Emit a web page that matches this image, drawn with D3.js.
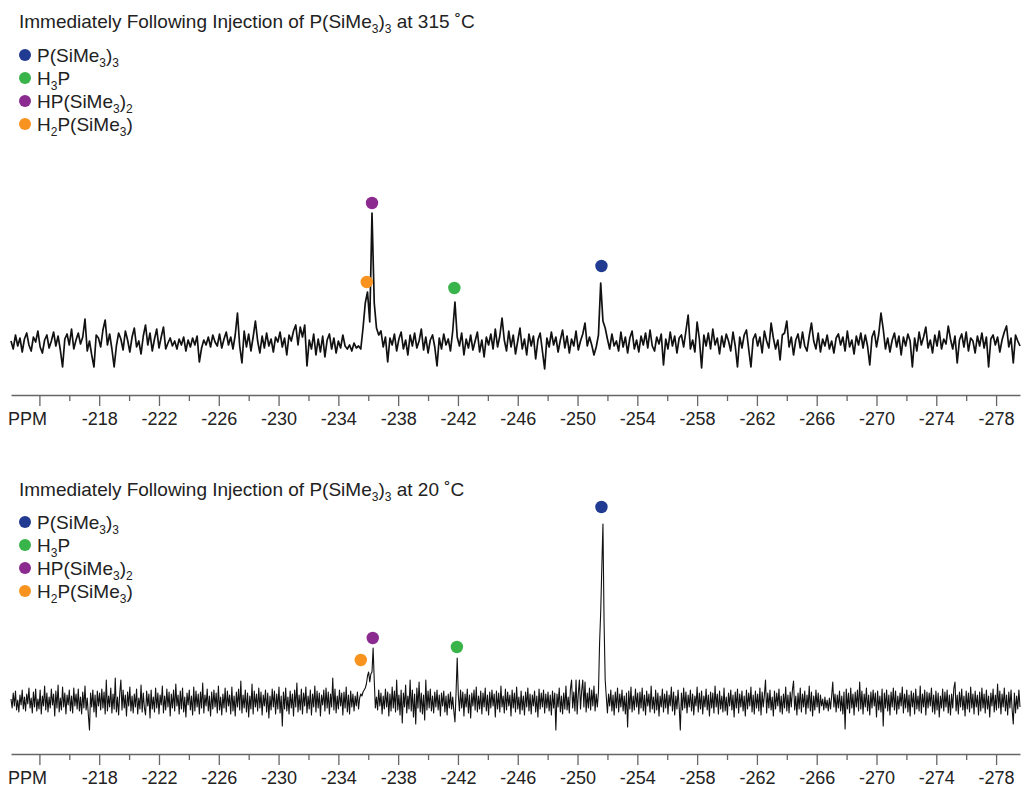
<!DOCTYPE html>
<html><head><meta charset="utf-8">
<script src="https://cdn.jsdelivr.net/npm/d3@7"></script>
<style>
body{margin:0;background:#fff}
svg{display:block}
text{font-family:"Liberation Sans",Arial,Helvetica,sans-serif;fill:#222}
</style>
</head><body>
<svg id="chart" width="1023" height="788"></svg>
<script>
// ---------------- DATA ----------------
// chemical shift grids (ppm) of the sampled spectra
const ppmStart = -212.1;
const ppmStepTop = -0.15;
const ppmStepBottom = -0.075;

const majorTicks = [-214,-218,-222,-226,-230,-234,-238,-242,-246,-250,-254,-258,-262,-266,-270,-274,-278];
const minorTicks = [-216,-220,-224,-228,-232,-236,-240,-244,-248,-252,-256,-260,-264,-268,-272,-276];

const speciesNames = [
  [["P(SiMe",0],["3",1],[")",0],["3",1]],
  [["H",0],["3",1],["P",0]],
  [["HP(SiMe",0],["3",1],[")",0],["2",1]],
  [["H",0],["2",1],["P(SiMe",0],["3",1],[")",0]]
];
const speciesColors = ["#213a92","#39b44a","#8b2a8f","#f7931e"];

const titleTop = [["Immediately Following Injection of P(SiMe",0],["3",1],[")",0],["3",1],[" at 315 \u02DAC",0]];
const titleBottom = [["Immediately Following Injection of P(SiMe",0],["3",1],[")",0],["3",1],[" at 20 \u02DAC",0]];

// intensities (arbitrary units), spectrum recorded at 315 °C
const spectrumTop = [
2,-6,8,-3,5,-9,4,10,-2,-8,6,1,12,-4,-10,3,8,-5,2,11,
-3,7,-7,-24,4,9,-2,14,-6,3,10,-1,6,24,-8,2,-12,-24,8,5,
-4,13,23,-2,9,-6,-24,-3,10,4,-7,12,3,-9,6,15,-4,2,-11,7,
18,-2,10,-8,4,14,-5,6,16,-6,0,5,-3,2,-6,4,-2,6,-8,3,
-4,5,-2,7,-19,-5,3,-2,6,-4,8,1,-3,9,-5,4,11,-2,6,-6,
8,30,-3,-20,12,-4,9,-8,6,22,2,-10,7,-5,10,-3,4,-9,6,1,
11,-4,5,-12,8,2,12,18,-2,16,6,18,-23,3,-6,9,-12,4,-9,7,
-14,3,9,-6,5,-10,2,-5,8,-3,-6,-2,-8,0,-5,-3,-6,15,40,51,
21,130,40,15,8,12,-4,6,-19,5,-2,9,-8,4,11,-6,3,-12,8,-3,
10,-5,2,14,-7,6,-10,3,8,-4,-23,5,-6,9,-2,4,-8,12,41,6,
-3,10,-12,4,-5,8,-7,2,11,-9,3,-14,6,-2,9,-6,14,-4,7,25,
3,-8,12,-4,8,-11,2,15,-6,4,-12,9,-3,7,-16,3,10,-8,-26,5,
-4,11,-2,6,-9,3,13,-5,7,-10,4,-3,12,-7,2,9,20,-3,6,-2,
-12,-4,8,60,22,15,4,-6,9,-3,2,-8,11,-4,6,-10,5,12,-6,3,
-9,7,-2,10,-5,13,-3,-8,6,-1,9,-22,4,-6,11,-3,7,-10,5,8,
-4,12,28,-6,3,-9,21,4,-25,8,-3,10,-6,14,-2,5,-11,7,-4,9,
2,-8,11,-3,-24,6,-5,8,13,-6,-24,4,9,-3,6,-10,12,2,-5,20,
5,-6,3,-17,8,10,22,-4,6,-12,3,9,-5,11,-3,-8,7,20,2,-6,
10,-9,4,-3,8,-6,2,-10,5,9,-2,6,-8,12,-4,3,-11,7,-2,10,
-5,8,-3,-22,6,12,-4,9,30,14,-6,5,-9,3,10,-4,7,-12,6,-3,
9,2,-24,5,-8,11,-2,6,16,-5,3,-10,8,-3,12,-6,4,-1,17,4,
-6,7,-20,3,9,-4,11,-8,5,2,-10,7,-3,10,-5,6,-24,4,8,-2,
6,-9,3,11,17,-4,5,-20,8,2,-3
];

// intensities (arbitrary units), spectrum recorded at 20 °C
const spectrumBottom = [
3,-6,9,-4,11,-8,2,-10,7,-3,12,-7,5,-9,8,-2,14,-6,4,-11,
10,-5,13,-9,3,-7,12,-12,6,-4,16,-8,9,-10,5,-6,13,-3,8,-14,
11,-6,17,-10,4,-8,15,-5,9,-12,7,-3,12,-9,6,-11,14,-4,8,-7,
13,-9,5,-12,10,-6,16,-8,4,-13,-28,9,-5,12,-10,7,-15,11,-4,9,
-8,13,-6,10,-12,22,-9,6,-5,14,-11,8,-7,24,-10,5,-13,9,22,-8,
12,-6,7,-14,10,-4,15,-9,6,-11,8,-5,13,-12,4,-7,17,-10,9,-6,
-13,11,-4,8,-16,12,-7,5,-10,14,-6,9,-12,7,-3,16,-11,6,-8,13,
-5,10,-14,8,-6,12,-9,18,-4,7,-12,11,-7,14,-10,5,-15,9,-3,12,
-8,6,-13,15,-9,11,-5,8,-12,10,-6,19,-11,7,-4,13,-9,6,-14,10,
-7,12,-5,9,-11,16,-8,5,-13,8,-6,14,-10,11,-4,7,-12,15,-9,6,
-14,10,-5,13,-8,21,-11,7,-6,12,-10,9,-15,6,-7,18,-12,11,-5,8,
-9,14,-6,10,-13,7,-4,12,-10,9,-16,6,-8,13,-5,11,-12,8,-7,15,
-11,6,-24,10,-7,14,-9,5,-12,11,-6,8,-14,12,-5,19,-10,7,-8,13,
-12,9,-4,15,-11,6,-7,12,-13,8,-5,16,-10,11,-6,9,-14,7,-3,12,
-9,14,-6,10,-12,8,-5,24,-8,13,-11,6,-7,12,-4,9,-13,10,-6,15,
-10,7,-12,11,-5,8,-9,6,-4,10,-7,4,8,6,10,12,14,18,26,30,
20,28,30,54,22,-6,5,-8,12,-4,9,-12,6,-7,13,-5,10,-14,8,-9,
15,-6,11,-10,22,-8,7,-13,12,-21,9,-5,17,-11,6,-7,22,-9,12,-15,
8,-22,14,-6,20,-10,9,-12,7,-18,22,-8,11,-6,13,-9,6,-11,10,-5,
12,-8,7,-14,9,-4,11,-10,6,-13,8,-6,10,-7,5,-9,-20,10,44,7,
-9,12,-6,10,-14,8,-5,13,-11,7,-16,9,-4,12,-8,15,-10,6,-7,11,
-12,9,-5,14,-9,7,-13,10,-6,12,-4,8,-15,11,-7,9,-10,16,-5,6,
-11,13,-8,10,-4,7,-14,12,-6,9,-10,15,-7,5,-12,11,-8,6,-13,10,
-5,14,-9,8,-12,7,-4,11,-10,6,-15,13,-7,9,-5,12,-11,8,-6,10,
-9,7,-13,11,-6,9,-28,8,-5,14,-10,6,-12,9,-7,16,-8,5,-11,13,
22,-6,10,-9,22,-12,8,22,-7,11,22,-5,20,-10,9,-6,14,-8,12,-4,
16,-9,8,-5,10,59,90,135,178,80,22,5,-11,8,-4,12,-9,7,-13,10,
-6,14,-10,8,-5,12,-9,6,-12,9,-25,11,-7,15,-10,6,-8,13,-5,9,
-12,10,-6,14,-9,7,-13,11,-4,8,-10,16,-7,5,-11,12,-8,9,-14,6,
-5,13,-10,8,-6,11,-12,7,-4,15,-9,10,-13,6,-7,12,-5,-28,9,-8,
14,-6,10,-11,7,-5,12,-9,8,-13,6,-4,15,-10,9,-7,11,-12,6,-5,
13,-8,7,-14,10,-6,9,-11,16,-5,8,-12,11,-7,6,-10,14,-9,5,-13,
9,-4,12,-8,7,-15,10,-6,13,-11,8,-5,11,-9,6,-14,12,-7,9,-4,
15,-10,7,-12,11,-6,8,-9,14,-13,10,-5,7,22,-11,9,-6,12,-8,5,
-14,11,-7,9,-4,13,-10,6,-12,8,-6,15,-9,7,-11,10,-5,12,21,-8,
6,-13,9,-7,14,-10,8,-5,11,-12,7,-6,16,-9,10,-14,6,-8,12,-5,
9,-11,7,-4,3,-8,5,-6,2,-9,4,-7,6,20,-5,8,-10,7,-6,11,
-9,6,-12,10,-27,13,-7,9,-11,14,-6,8,-13,10,-5,12,-9,20,-7,11,
-12,8,-5,14,-9,7,-13,10,-6,12,-4,9,-15,11,-8,6,-10,13,-24,9,
-6,12,-9,7,-13,10,-5,14,-8,11,-12,6,-7,9,-4,15,-11,8,-6,12,
-10,7,-14,11,-5,9,-12,13,-7,6,-9,16,-11,8,-5,12,-13,10,-6,9,
-4,14,-10,7,-12,11,-8,9,-15,6,-6,13,-9,10,-5,12,-11,7,-13,8,
-6,14,20,-9,7,-12,10,-5,13,-8,6,-14,11,-7,9,-10,15,-6,8,-12,
11,-5,7,-13,10,-9,14,-6,8,-11,12,-7,6,-15,9,-4,13,-10,7,-8,
18,-6,11,-12,8,-5,14,-9,7,-13,10,-6,12,-8,-22,9,-11,6,-7,12,
-5
];

// peak assignment markers: species index, ppm, marker height (same units as spectrum)
const markerSpeciesTop = [2,3,1,0];
const markerPpmTop     = [-236.25,-235.9,-241.76,-251.6];
const markerValueTop   = [140,61,55,77];

const markerSpeciesBottom = [2,3,1,0];
const markerPpmBottom     = [-236.3,-235.5,-241.93,-251.6];
const markerValueBottom   = [64,42,55,195];

// ---------------- DRAWING ----------------
const svg = d3.select("#chart");
const x = d3.scaleLinear().domain([-212.1,-279.6]).range([11,1020]);

function richText(g, parts, xPos, yPos, size, subSize) {
  const t = g.append("text").attr("x", xPos).attr("y", yPos).style("font-size", size + "px");
  let shifted = false;
  parts.forEach(([s, sub]) => {
    const ts = t.append("tspan").text(s);
    if (sub && !shifted) { ts.attr("dy", 5).style("font-size", subSize + "px"); shifted = true; }
    else if (sub && shifted) { ts.style("font-size", subSize + "px"); }
    else if (!sub && shifted) { ts.attr("dy", -5); shifted = false; }
  });
  return t;
}

const panels = [
  {title: titleTop, titleY: 27.5, legendY: 55, base: 343, data: spectrumTop, step: ppmStepTop, sw: 1.7,
   ms: markerSpeciesTop, mp: markerPpmTop, mv: markerValueTop, axisY: 395},
  {title: titleBottom, titleY: 496, legendY: 522, base: 702, data: spectrumBottom, step: ppmStepBottom, sw: 1.1,
   ms: markerSpeciesBottom, mp: markerPpmBottom, mv: markerValueBottom, axisY: 754}
];

panels.forEach(p => {
  const g = svg.append("g");
  richText(g, p.title, 19, p.titleY, 19, 12);

  speciesNames.forEach((nm, i) => {
    const cy = p.legendY + i * 23;
    g.append("circle").attr("cx", 25).attr("cy", cy).attr("r", 6).attr("fill", speciesColors[i]);
    richText(g, nm, 37, cy + 6.5, 19, 12);
  });

  const y = d3.scaleLinear().domain([0, 100]).range([p.base, p.base - 100]);
  const line = d3.line()
    .x((d, i) => x(ppmStart + i * p.step))
    .y(d => y(d));
  g.append("path").datum(p.data).attr("d", line)
    .attr("fill", "none").attr("stroke", "#111").attr("stroke-width", p.sw)
    .attr("stroke-linejoin", "round");

  p.ms.forEach((s, i) => {
    g.append("circle").attr("cx", x(p.mp[i])).attr("cy", y(p.mv[i])).attr("r", 6.2)
      .attr("fill", speciesColors[s]);
  });

  const axisMajor = d3.axisBottom(x).tickValues(majorTicks).tickSize(11).tickSizeOuter(0)
    .tickPadding(6).tickFormat(d => d === -214 ? "" : String(d));
  const ga = g.append("g").attr("transform", `translate(0,${p.axisY})`).call(axisMajor);
  ga.selectAll("text").style("font-size", "18px").attr("fill", "#222")
    .style("font-family", '"Liberation Sans",Arial,sans-serif');
  ga.selectAll("line").attr("stroke", "#666").attr("stroke-width", 1.3);
  ga.select(".domain").attr("stroke", "#666").attr("stroke-width", 1.5);

  const axisMinor = d3.axisBottom(x).tickValues(minorTicks).tickSize(6).tickSizeOuter(0).tickFormat("");
  const gm = g.append("g").attr("transform", `translate(0,${p.axisY})`).call(axisMinor);
  gm.select(".domain").remove();
  gm.selectAll("line").attr("stroke", "#666").attr("stroke-width", 1.3);

  g.append("text").attr("x", 8).attr("y", p.axisY + 30).style("font-size", "18px").text("PPM");
});
</script>
</body></html>
